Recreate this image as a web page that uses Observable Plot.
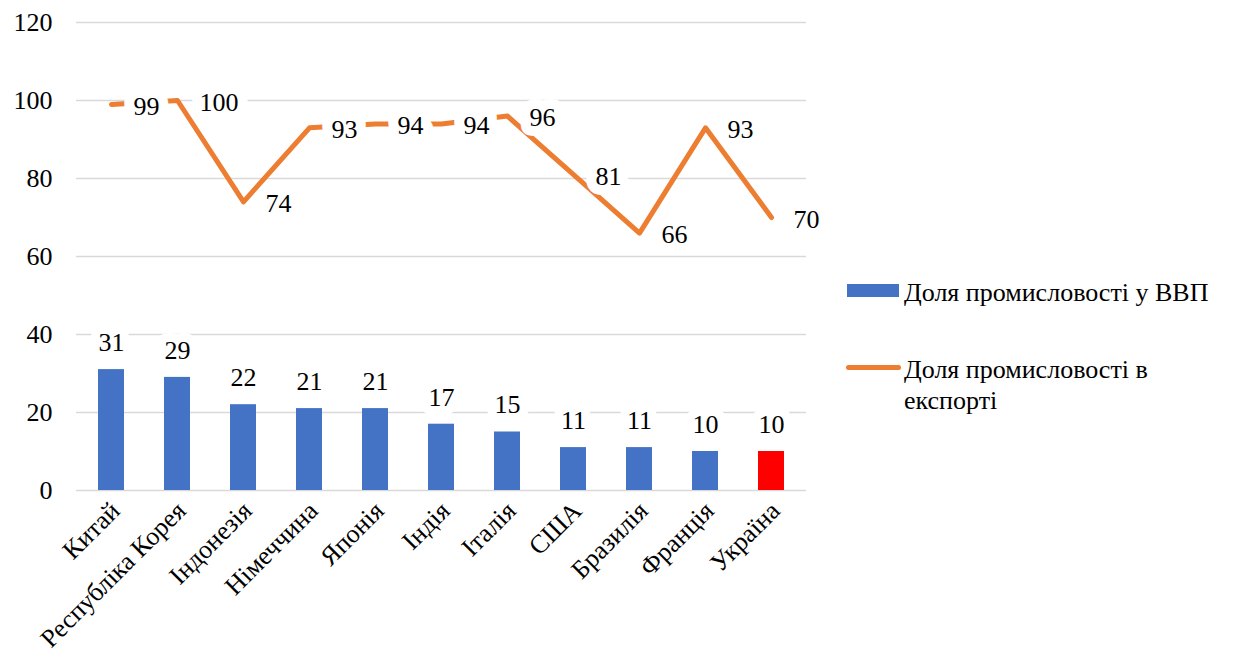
<!DOCTYPE html>
<html>
<head>
<meta charset="utf-8">
<style>
  html, body, div, svg, svg text, svg tspan, svg g { font-family: 'Liberation Serif', 'Times New Roman', serif !important; }
</style>
<script src="https://cdn.jsdelivr.net/npm/d3@7"></script>
<script src="https://cdn.jsdelivr.net/npm/@observablehq/plot@0.6"></script>
<style>
  html, body, div, svg, svg text, svg tspan, svg g { font-family: 'Liberation Serif', 'Times New Roman', serif !important; }
</style>
</head>
<body style="margin:0;padding:0;background:#fff">
<div id="wrap" style="position:relative;width:1245px;height:671px;color:#000">
  <div id="chart" style="position:absolute;left:0;top:0"></div>
  <div id="legend">
    <div id="sw1" style="position:absolute;left:847px;top:284px;width:52px;height:13px"></div>
    <div id="lg1" style="position:absolute;font-family:'Liberation Serif',serif !important;font-size:26px;line-height:31px;color:#000;left:904px;top:277px;width:341px"></div>
    <div id="sw2" style="position:absolute;left:846px;top:365px;width:55px;height:5px;border-radius:3px"></div>
    <div id="lg2" style="position:absolute;font-family:'Liberation Serif',serif !important;font-size:26px;line-height:31px;color:#000;left:904px;top:354px;width:300px"></div>
  </div>
</div>
<script>
const countries = ["Китай", "Республіка Корея", "Індонезія", "Німеччина", "Японія", "Індія", "Італія", "США", "Бразилія", "Франція", "Україна"];
const gdpShare = [31, 29, 22, 21, 21, 17, 15, 11, 11, 10, 10];
const exportShare = [99, 100, 74, 93, 94, 94, 96, 81, 66, 93, 70];
const yTicks = [0, 20, 40, 60, 80, 100, 120];
const seriesNames = ["Доля промисловості у ВВП", "Доля промисловості в експорті"];
const highlightCountry = "Україна";

const barColor = "#4472C4";
const highlightColor = "#FF0000";
const lineColor = "#ED7D31";
const FONT = "'Liberation Serif', 'Times New Roman', serif";

document.getElementById("lg1").textContent = seriesNames[0];
document.getElementById("lg2").textContent = seriesNames[1];
document.getElementById("sw1").style.background = barColor;
document.getElementById("sw2").style.background = lineColor;

const rows = countries.map((c, i) => ({country: c, gdp: gdpShare[i], exp: exportShare[i]}));

const chart = Plot.plot({
  width: 830,
  height: 671,
  marginLeft: 76,
  marginRight: 24,
  marginTop: 22,
  marginBottom: 181,
  style: {fontFamily: FONT, fontSize: "26px", color: "#000", background: "transparent"},
  x: {domain: countries, paddingInner: 0.61, paddingOuter: 0.305, label: null},
  y: {domain: [0, 120], label: null},
  marks: [
    Plot.ruleY(yTicks, {stroke: "#d9d9d9", strokeWidth: 1.5}),
    Plot.barY(rows, {x: "country", y: "gdp", fill: d => d.country === highlightCountry ? highlightColor : barColor}),
    Plot.text(rows, {x: "country", y: "gdp", text: d => String(d.gdp), dy: -27, lineAnchor: "middle", fill: "#000", stroke: "white", strokeWidth: 18, strokeLinejoin: "round", paintOrder: "stroke", fontSize: 26, fontFamily: FONT}),
    Plot.line(rows, {x: "country", y: "exp", stroke: lineColor, strokeWidth: 5, strokeLinecap: "round", strokeLinejoin: "round"}),
    Plot.text(rows, {x: "country", y: "exp", text: d => String(d.exp), textAnchor: "start", dx: 22, dy: 2, lineAnchor: "middle", fill: "#000", stroke: "white", strokeWidth: 20, strokeLinejoin: "round", paintOrder: "stroke", fontSize: 26, fontFamily: FONT}),
    Plot.axisY(yTicks, {tickSize: 0, tickPadding: 24, fontSize: 26, fontFamily: FONT, fill: "#000", label: null}),
    Plot.axisX({tickSize: 0, tickRotate: -45, tickPadding: 16, dx: 4, fontSize: 26, fontFamily: FONT, fill: "#000", label: null})
  ]
});
document.getElementById("chart").appendChild(chart);
chart.querySelectorAll("text").forEach(t => t.style.setProperty("font-family", FONT, "important"));
document.querySelectorAll("#legend div").forEach(t => t.style.setProperty("font-family", FONT, "important"));
</script>
</body>
</html>
